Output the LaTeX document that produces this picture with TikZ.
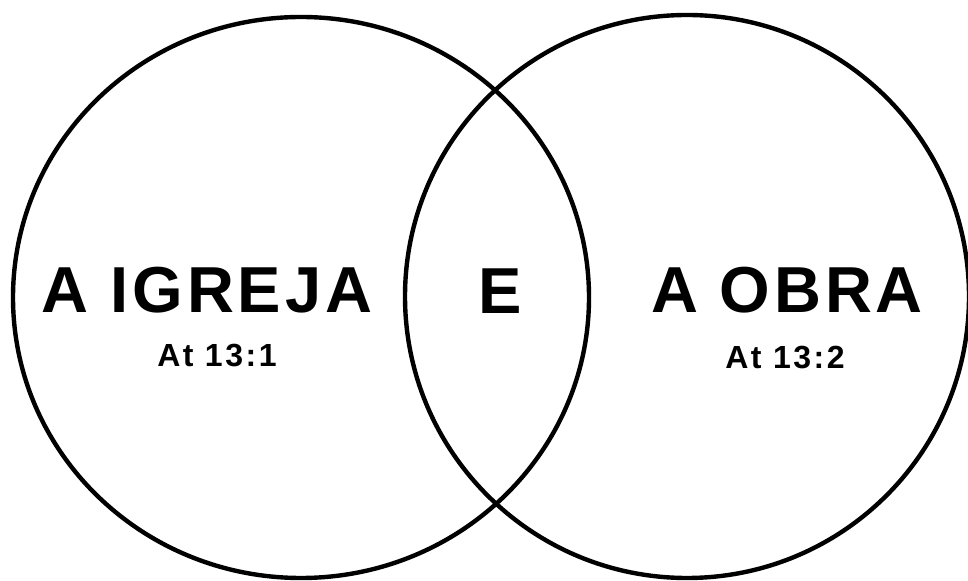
\documentclass[tikz,border=0pt]{standalone}
\usepackage{fontspec}
\setmainfont{Liberation Sans}
\usepackage{tikz}

\begin{document}
\begin{tikzpicture}[
  x=0.5pt, y=-0.5pt,
  ring/.style={draw, line width=2.2pt},
  title/.style={anchor=base, inner sep=0pt,
    font=\fontsize{32.5}{36}\selectfont\bfseries\addfontfeature{LetterSpace=6}},
  verse/.style={anchor=base, inner sep=0pt,
    font=\fontsize{16}{19}\selectfont\bfseries\addfontfeature{LetterSpace=8}}
]
\useasboundingbox (0,0) rectangle (968,581);
% the two circles
\coordinate (igreja) at (301,297.5);
\coordinate (obra) at (687,296.5);
\draw[ring] (igreja) ellipse [x radius=288, y radius=280.5];
\draw[ring] (obra) ellipse [x radius=282, y radius=281.5];
% texts
\node[title] (lefttitle) at (207,313) {A IGREJA};
\node[title] (mid) at (500,314) {E};
\node[title] (righttitle) at (787,313) {A OBRA};
\node[verse] (leftverse) at (217,367) {At 13:1};
\node[verse] (rightverse) at (785,369) {At 13:2};
\end{tikzpicture}
\end{document}
